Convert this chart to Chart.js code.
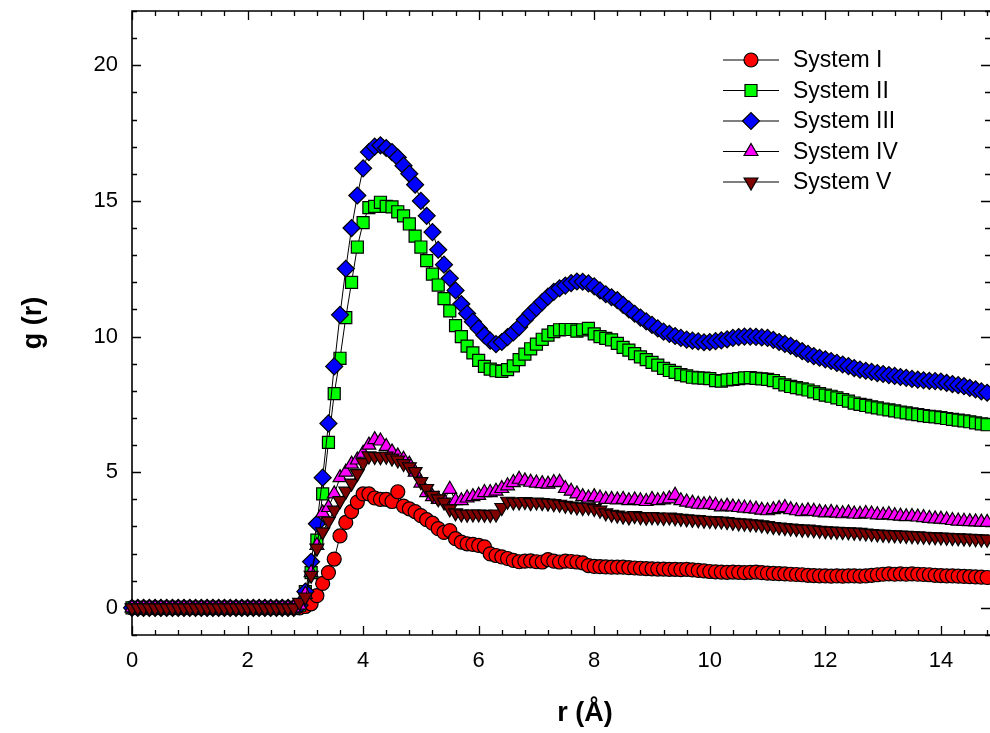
<!DOCTYPE html>
<html>
<head>
<meta charset="utf-8">
<title>g(r)</title>
<script src="https://cdn.jsdelivr.net/npm/chart.js@4.4.1/dist/chart.umd.min.js"></script>
<style>
    html, body { margin: 0; padding: 0; background: #fff; }
    #wrap { width: 990px; height: 733px; }
</style>
</head>
<body>
<div id="wrap"><canvas id="grChart" width="990" height="733"></canvas></div>
<script>
// r values (Angstrom), one point every 0.1
const rValues = [
    0, 0.1, 0.2, 0.3, 0.4, 0.5, 0.6, 0.7, 0.8, 0.9,
    1, 1.1, 1.2, 1.3, 1.4, 1.5, 1.6, 1.7, 1.8, 1.9,
    2, 2.1, 2.2, 2.3, 2.4, 2.5, 2.6, 2.7, 2.8, 2.9,
    3, 3.1, 3.2, 3.3, 3.4, 3.5, 3.6, 3.7, 3.8, 3.9,
    4, 4.1, 4.2, 4.3, 4.4, 4.5, 4.6, 4.7, 4.8, 4.9,
    5, 5.1, 5.2, 5.3, 5.4, 5.5, 5.6, 5.7, 5.8, 5.9,
    6, 6.1, 6.2, 6.3, 6.4, 6.5, 6.6, 6.7, 6.8, 6.9,
    7, 7.1, 7.2, 7.3, 7.4, 7.5, 7.6, 7.7, 7.8, 7.9,
    8, 8.1, 8.2, 8.3, 8.4, 8.5, 8.6, 8.7, 8.8, 8.9,
    9, 9.1, 9.2, 9.3, 9.4, 9.5, 9.6, 9.7, 9.8, 9.9,
    10, 10.1, 10.2, 10.3, 10.4, 10.5, 10.6, 10.7, 10.8, 10.9,
    11, 11.1, 11.2, 11.3, 11.4, 11.5, 11.6, 11.7, 11.8, 11.9,
    12, 12.1, 12.2, 12.3, 12.4, 12.5, 12.6, 12.7, 12.8, 12.9,
    13, 13.1, 13.2, 13.3, 13.4, 13.5, 13.6, 13.7, 13.8, 13.9,
    14, 14.1, 14.2, 14.3, 14.4, 14.5, 14.6, 14.7, 14.8
];

// g(r) for each system
const systemI = [
    0, 0, 0, 0, 0, 0, 0, 0, 0, 0,
    0, 0, 0, 0, 0, 0, 0, 0, 0, 0,
    0, 0, 0, 0, 0, 0, 0, 0, 0, 0,
    0.05, 0.15, 0.45, 0.9, 1.3, 1.8, 2.65, 3.15, 3.55, 3.9,
    4.2, 4.2, 4.05, 4.0, 4.0, 3.92, 4.28, 3.75, 3.65, 3.55,
    3.4, 3.25, 3.12, 2.92, 2.78, 2.85, 2.55, 2.42, 2.36, 2.34,
    2.3, 2.25, 1.99, 1.93, 1.88, 1.82, 1.75, 1.7, 1.72, 1.73,
    1.7, 1.69, 1.78, 1.72, 1.69, 1.72, 1.71, 1.69, 1.66, 1.56,
    1.53, 1.52, 1.51, 1.5, 1.5, 1.5, 1.48, 1.47, 1.46, 1.45,
    1.44, 1.43, 1.43, 1.42, 1.42, 1.41, 1.42, 1.4, 1.38, 1.36,
    1.34, 1.33, 1.32, 1.31, 1.32, 1.31, 1.3, 1.31, 1.32, 1.3,
    1.28, 1.27, 1.26, 1.25, 1.24, 1.23, 1.22, 1.2, 1.19, 1.18,
    1.18, 1.17, 1.18, 1.17, 1.18, 1.18, 1.17, 1.18, 1.2, 1.22,
    1.24, 1.25, 1.24, 1.25, 1.24, 1.25, 1.24, 1.23, 1.22, 1.2,
    1.19, 1.18, 1.18, 1.17, 1.16, 1.15, 1.14, 1.13, 1.12
];
const systemII = [
    0, 0, 0, 0, 0, 0, 0, 0, 0, 0,
    0, 0, 0, 0, 0, 0, 0, 0, 0, 0,
    0, 0, 0, 0, 0, 0, 0, 0, 0, 0.1,
    0.6, 1.3, 2.5, 4.2, 6.1, 7.9, 9.2, 10.7, 12.0, 13.3,
    14.2, 14.75, 14.8, 14.95, 14.8, 14.78, 14.6, 14.45, 14.15, 13.7,
    13.3, 12.8, 12.3, 11.9, 11.4, 10.95, 10.4, 10.0, 9.65, 9.4,
    9.12, 8.9, 8.8, 8.74, 8.72, 8.78, 8.92, 9.15, 9.35, 9.55,
    9.72, 9.9, 10.05, 10.18, 10.25, 10.26, 10.26, 10.2, 10.25, 10.3,
    10.1, 10.0, 9.93, 9.88, 9.75, 9.6, 9.5, 9.37, 9.25, 9.15,
    9.05, 8.95, 8.83, 8.75, 8.68, 8.6, 8.55, 8.5, 8.48, 8.47,
    8.45, 8.38, 8.36, 8.4, 8.42, 8.45, 8.48, 8.49, 8.46, 8.44,
    8.42, 8.38, 8.3, 8.22, 8.16, 8.12, 8.07, 8.03, 7.96, 7.9,
    7.84, 7.8, 7.74, 7.68, 7.62, 7.55, 7.5, 7.46, 7.41, 7.37,
    7.33, 7.3, 7.26, 7.22, 7.19, 7.15, 7.12, 7.09, 7.06, 7.04,
    7.01, 6.98, 6.95, 6.92, 6.89, 6.86, 6.82, 6.78, 6.75
];
const systemIII = [
    0, 0, 0, 0, 0, 0, 0, 0, 0, 0,
    0, 0, 0, 0, 0, 0, 0, 0, 0, 0,
    0, 0, 0, 0, 0, 0, 0, 0, 0, 0.1,
    0.6, 1.7, 3.1, 4.8, 6.8, 8.9, 10.8, 12.5, 14.0, 15.2,
    16.2, 16.8, 17.0, 17.05, 16.95, 16.8, 16.6, 16.3, 16.0, 15.6,
    15.0, 14.45, 13.85, 13.2, 12.65, 12.15, 11.7, 11.2, 10.85, 10.55,
    10.3, 10.05, 9.85, 9.72, 9.8, 9.98, 10.15, 10.35, 10.62, 10.85,
    11.06, 11.27, 11.47, 11.65, 11.78, 11.88, 11.97, 12.03, 12.02, 11.96,
    11.85, 11.7, 11.56, 11.45, 11.34, 11.17, 11.0, 10.84, 10.7, 10.56,
    10.43, 10.3, 10.18, 10.1, 10.02, 9.95, 9.89, 9.85, 9.82, 9.79,
    9.8, 9.83, 9.86, 9.9, 9.95, 9.98, 10.0, 10.0, 9.99, 9.97,
    9.95, 9.88, 9.8, 9.73, 9.66, 9.56, 9.46, 9.36, 9.28, 9.22,
    9.16, 9.1, 9.03, 8.97, 8.91, 8.84, 8.78, 8.74, 8.7, 8.65,
    8.62, 8.58, 8.55, 8.51, 8.48, 8.44, 8.41, 8.39, 8.37, 8.36,
    8.34, 8.29, 8.25, 8.21, 8.17, 8.11, 8.05, 7.98, 7.93
];
const systemIV = [
    0, 0, 0, 0, 0, 0, 0, 0, 0, 0,
    0, 0, 0, 0, 0, 0, 0, 0, 0, 0,
    0, 0, 0, 0, 0, 0, 0, 0, 0, 0.1,
    0.5, 1.3, 2.3, 3.5, 3.7, 4.2, 4.8, 5.0, 5.3, 5.45,
    5.7, 6.0, 6.2, 6.15, 5.95, 5.75, 5.6, 5.48, 5.3, 5.0,
    4.6, 4.25, 4.1, 4.0, 3.95, 4.37, 3.95, 3.95, 4.05, 4.1,
    4.15, 4.25, 4.25, 4.3, 4.4, 4.5, 4.62, 4.74, 4.68, 4.63,
    4.6, 4.58, 4.56, 4.62, 4.63, 4.4, 4.3, 4.2, 4.1, 4.05,
    4.1, 4.05, 4.0, 4.0, 3.98, 4.0, 3.95, 3.98, 3.95, 3.92,
    4.0, 3.95, 3.98, 4.02, 4.15, 3.95, 3.9, 3.86, 3.82, 3.8,
    3.82, 3.78, 3.72, 3.75, 3.72, 3.7, 3.68, 3.66, 3.64, 3.6,
    3.58, 3.62, 3.66, 3.7, 3.62, 3.58, 3.55, 3.58, 3.56, 3.53,
    3.5, 3.52, 3.49, 3.47, 3.5, 3.46, 3.45, 3.48, 3.46, 3.43,
    3.42, 3.44, 3.4, 3.38, 3.36, 3.37, 3.35, 3.33, 3.3, 3.28,
    3.27, 3.25, 3.22, 3.2, 3.19, 3.18, 3.17, 3.16, 3.15
];
const systemV = [
    0, 0, 0, 0, 0, 0, 0, 0, 0, 0,
    0, 0, 0, 0, 0, 0, 0, 0, 0, 0,
    0, 0, 0, 0, 0, 0, 0, 0, 0, 0.2,
    0.4, 1.2, 2.2, 2.8, 3.2, 3.6, 3.95, 4.3, 4.6, 4.95,
    5.35, 5.6, 5.58, 5.57, 5.59, 5.52, 5.45, 5.32, 5.2, 5.02,
    4.65, 4.4, 4.15, 4.02, 3.9, 3.65, 3.5, 3.46, 3.45, 3.46,
    3.46, 3.45, 3.44, 3.46, 3.7, 3.93, 3.9, 3.9, 3.92, 3.88,
    3.9, 3.88, 3.86, 3.84, 3.82, 3.78, 3.75, 3.72, 3.7, 3.71,
    3.66, 3.6, 3.5, 3.45, 3.42, 3.38, 3.35, 3.4, 3.36, 3.34,
    3.36, 3.35, 3.33, 3.35, 3.32, 3.3, 3.28, 3.26, 3.25, 3.23,
    3.22, 3.21, 3.2, 3.18, 3.15, 3.13, 3.12, 3.1, 3.09, 3.06,
    3.03, 3.0, 2.98, 2.96, 2.94, 2.92, 2.9, 2.9, 2.88, 2.86,
    2.84, 2.83, 2.82, 2.81, 2.8, 2.79, 2.78, 2.76, 2.74, 2.72,
    2.71, 2.7, 2.69, 2.68, 2.67, 2.66, 2.65, 2.64, 2.63, 2.62,
    2.61, 2.6, 2.59, 2.58, 2.57, 2.56, 2.55, 2.54, 2.53
];

const seriesNames = ['System I', 'System II', 'System III', 'System IV', 'System V'];
const seriesValues = [systemI, systemII, systemIII, systemIV, systemV];
const xTickValues = [0, 2, 4, 6, 8, 10, 12, 14];
const yTickValues = [0, 5, 10, 15, 20];

// marker look for each series
const markers = [
    { style: 'circle', radius: 7, rotation: 0, fill: '#ff0000' },
    { style: 'rect', radius: 8.5, rotation: 0, fill: '#00ff00' },
    { style: 'rectRot', radius: 8.5, rotation: 0, fill: '#0000ff' },
    { style: 'triangle', radius: 8, rotation: 0, fill: '#ff00ff' },
    { style: 'triangle', radius: 8, rotation: 180, fill: '#800000' }
];

const FONT = '"Liberation Sans", Arial, Helvetica, sans-serif';

const datasets = seriesNames.map((name, i) => ({
    label: name,
    data: rValues.map((r, j) => ({ x: r, y: seriesValues[i][j] })),
    borderColor: '#000',
    borderWidth: 1,
    pointStyle: markers[i].style,
    pointRadius: markers[i].radius,
    pointRotation: markers[i].rotation,
    pointBackgroundColor: markers[i].fill,
    pointBorderColor: '#000',
    pointBorderWidth: 1.2,
    tension: 0,
    clip: false,
    order: 5 - i
}));

// drop the label padding chart.js adds, so the plot box sits where we want it
function noPad(scale) {
    scale.paddingTop = 0;
    scale.paddingBottom = 0;
    scale.paddingLeft = 0;
    scale.paddingRight = 0;
}

// frame with inward ticks, like the original plot (right edge is cut off)
const frameTicks = {
    id: 'frameTicks',
    beforeDatasetsDraw(chart) {
        const ctx = chart.ctx;
        const a = chart.chartArea;
        const xs = chart.scales.x;
        const ys = chart.scales.y;
        ctx.save();
        ctx.strokeStyle = '#000';
        ctx.lineWidth = 1.6;
        ctx.beginPath();
        ctx.moveTo(a.right, a.bottom);
        ctx.lineTo(a.left, a.bottom);
        ctx.lineTo(a.left, a.top);
        ctx.lineTo(a.right, a.top);
        ctx.stroke();

        ctx.lineWidth = 1.3;
        ctx.beginPath();
        // x ticks: minor every 0.4, major every 2
        for (let k = 0; k * 0.4 <= xs.max + 1e-6; k++) {
            const v = k * 0.4;
            const px = Math.round(xs.getPixelForValue(v)) + 0.5;
            const len = (k % 5 === 0) ? 9 : 5;
            ctx.moveTo(px, a.bottom);
            ctx.lineTo(px, a.bottom - len);
            ctx.moveTo(px, a.top);
            ctx.lineTo(px, a.top + len);
        }
        // y ticks: minor every 1, major every 5
        for (let v = Math.ceil(ys.min); v <= ys.max; v++) {
            const py = Math.round(ys.getPixelForValue(v)) + 0.5;
            const len = (v % 5 === 0) ? 9 : 5;
            ctx.moveTo(a.left, py);
            ctx.lineTo(a.left + len, py);
            ctx.moveTo(a.right, py);
            ctx.lineTo(a.right - len, py);
        }
        ctx.stroke();
        ctx.restore();
    }
};

// legend with line + marker and the axis titles
const legendAndTitles = {
    id: 'legendAndTitles',
    afterDraw(chart) {
        const ctx = chart.ctx;
        ctx.save();
        const lineX0 = 723, lineX1 = 779, markX = 751, textX = 793;
        const rowY = [60, 90.5, 121, 151.5, 182];
        seriesNames.forEach((name, i) => {
            const y = rowY[i];
            ctx.strokeStyle = '#000';
            ctx.lineWidth = 1.2;
            ctx.beginPath();
            ctx.moveTo(lineX0, y);
            ctx.lineTo(lineX1, y);
            ctx.stroke();
            ctx.fillStyle = markers[i].fill;
            ctx.strokeStyle = '#000';
            ctx.lineWidth = 1.2;
            Chart.helpers.drawPoint(ctx, {
                pointStyle: markers[i].style,
                radius: markers[i].radius,
                rotation: markers[i].rotation,
                borderWidth: 1.2
            }, markX, y);
            ctx.fillStyle = '#000';
            ctx.font = '23px ' + FONT;
            ctx.textAlign = 'left';
            ctx.textBaseline = 'middle';
            ctx.fillText(name, textX, y + 1);
        });

        ctx.fillStyle = '#000';
        ctx.font = 'bold 27px ' + FONT;
        ctx.textAlign = 'center';
        ctx.textBaseline = 'middle';
        ctx.fillText('r (Å)', 585, 714);

        ctx.translate(34, 323);
        ctx.rotate(-Math.PI / 2);
        ctx.fillText('g (r)', 0, 0);
        ctx.restore();
    }
};

const ctx = document.getElementById('grChart').getContext('2d');
const grChart = new Chart(ctx, {
    type: 'line',
    data: { datasets: datasets },
    options: {
        responsive: false,
        animation: false,
        devicePixelRatio: 1,
        events: [],
        layout: { padding: { top: 11, right: 0, bottom: 0, left: 0 }, autoPadding: false },
        plugins: {
            legend: { display: false },
            tooltip: { enabled: false }
        },
        scales: {
            x: {
                type: 'linear',
                min: 0,
                max: 14.85,
                grid: { display: false, drawTicks: false },
                border: { display: false },
                afterBuildTicks: scale => { scale.ticks = xTickValues.map(v => ({ value: v })); },
                afterFit: scale => { scale.height = 98; noPad(scale); },
                ticks: {
                    color: '#000',
                    padding: 13,
                    maxRotation: 0,
                    font: { family: FONT, size: 22 }
                }
            },
            y: {
                type: 'linear',
                min: -1,
                max: 22,
                grid: { display: false, drawTicks: false },
                border: { display: false },
                afterBuildTicks: scale => { scale.ticks = yTickValues.map(v => ({ value: v })); },
                afterFit: scale => { scale.width = 132; noPad(scale); },
                ticks: {
                    color: '#000',
                    padding: 14,
                    font: { family: FONT, size: 22 }
                }
            }
        }
    },
    plugins: [frameTicks, legendAndTitles]
});
</script>
</body>
</html>
